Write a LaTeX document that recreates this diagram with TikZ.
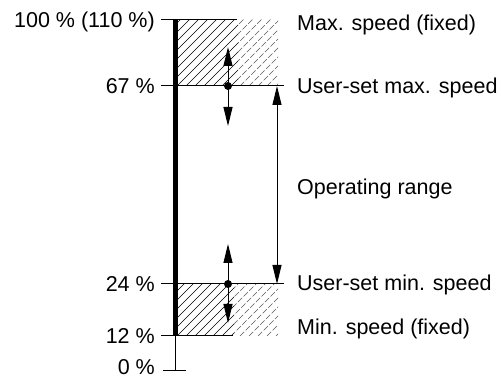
\documentclass[tikz,border=0pt]{standalone}
\usepackage{fontspec}
\setmainfont{Liberation Sans}
\usetikzlibrary{arrows.meta}
\tikzset{
  thinline/.style={line width=1pt},
  hatchline/.style={line width=0.65pt},
  fadehatch/.style={line width=0.6pt, black!65, dash pattern=on 6pt off 2pt},
  lbl/.style={inner sep=0pt, font=\fontsize{21.5}{25}\selectfont},
  tip/.tip={Triangle[length=19pt,width=9pt]},
  dblarrow/.style={thinline, tip-tip},
  onearrow/.style={thinline, -tip},
  knob/.style={circle, fill=black, inner sep=0pt, minimum size=8pt}
}
\begin{document}
\begin{tikzpicture}[x=1pt,y=-1pt]
\useasboundingbox (0,0) rectangle (501,379);
% hatching top
\begin{scope}
  \clip (177,20) rectangle (238,86);
  \foreach \k in {0,...,22} \draw[hatchline] (114+9*\k,86) -- ++(80,-80);
\end{scope}
\begin{scope}
  \clip (238,20) rectangle (278,86);
  \foreach \k in {0,...,22} \draw[fadehatch] (114+9*\k,86) -- ++(80,-80);
\end{scope}
% hatching bottom
\begin{scope}
  \clip (177,284) rectangle (234,336);
  \foreach \k in {0,...,22} \draw[hatchline] (114+9*\k,336) -- ++(80,-80);
\end{scope}
\begin{scope}
  \clip (234,284) rectangle (278,336);
  \foreach \k in {0,...,22} \draw[fadehatch] (114+9*\k,336) -- ++(80,-80);
\end{scope}
% coordinates
\coordinate (barTop) at (175,20);
\coordinate (barBot) at (175,336);
\coordinate (zero) at (175,371);
\coordinate (t100L) at (161,20);
\coordinate (t100R) at (237,20);
\coordinate (t67L) at (161,86);
\coordinate (t67R) at (284,86);
\coordinate (t24L) at (161,284);
\coordinate (t24R) at (284,284);
\coordinate (t12L) at (161,336);
\coordinate (t12R) at (233,336);
\coordinate (t0L) at (163,371);
\coordinate (t0R) at (186,371);
\coordinate (opTop) at (277,86);
\coordinate (opBot) at (277,284);
\coordinate (upA) at (228,47);
\coordinate (dnA) at (228,126);
\coordinate (upB) at (228,244);
\coordinate (dnB) at (228,323);
% horizontal lines
\draw[thinline] (t100L) -- (t100R);
\draw[thinline] (t67L) -- (t67R);
\draw[thinline] (t24L) -- (t24R);
\draw[thinline] (t12L) -- (t12R);
\draw[thinline] (t0L) -- (t0R);
% axis
\draw[line width=5pt] (barTop) -- (barBot);
\draw[thinline] (barBot) -- (zero);
% knobs and arrows
\node[knob] (kA) at (228,86) {};
\node[knob] (kB) at (228,284) {};
\draw[onearrow] (kA.center) -- (upA);
\draw[onearrow] (kA.center) -- (dnA);
\draw[onearrow] (kB.center) -- (upB);
\draw[onearrow] (kB.center) -- (dnB);
\draw[dblarrow] (opTop) -- (opBot);
% left labels
\node[lbl, anchor=base east] (l100) at (155,28) {100 \% (110 \%)};
\node[lbl, anchor=base east] (l67) at (155,94) {67 \%};
\node[lbl, anchor=base east] (l24) at (155,292) {24 \%};
\node[lbl, anchor=base east] (l12) at (155,344) {12 \%};
\node[lbl, anchor=base east] (l0) at (155,375) {0 \%};
% right labels
\node[lbl, anchor=base west] (rmax) at (297,31) {Max. speed (fixed)};
\node[lbl, anchor=base west] (rumax) at (297,94) {User-set max. speed};
\node[lbl, anchor=base west] (rop) at (297,195) {Operating range};
\node[lbl, anchor=base west] (rumin) at (297,291) {User-set min. speed};
\node[lbl, anchor=base west] (rmin) at (297,335) {Min. speed (fixed)};
\end{tikzpicture}
\end{document}
